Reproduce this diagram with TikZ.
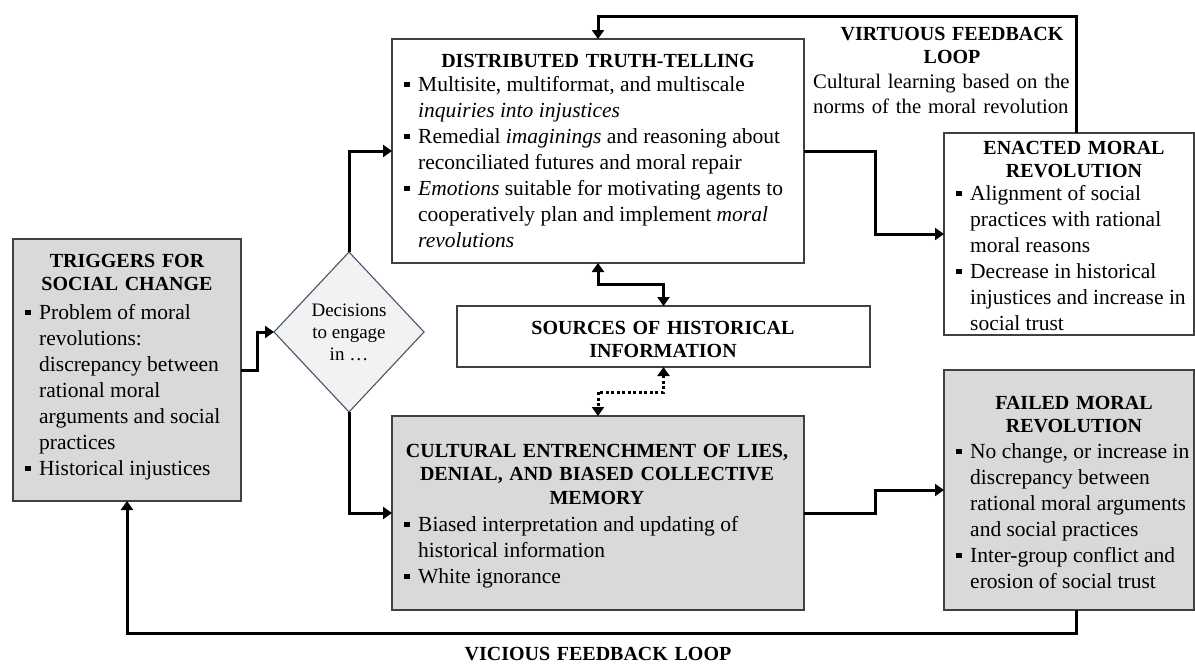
\documentclass[tikz,border=0pt]{standalone}
\usepackage{fontspec}
\setmainfont{Liberation Serif}
\usetikzlibrary{arrows.meta,shapes.geometric,calc}
\definecolor{boxgray}{HTML}{D9D9D9}
\definecolor{dfill}{HTML}{F2F2F2}
\definecolor{dline}{HTML}{44546A}
\definecolor{bline}{HTML}{404040}
\newcommand\bodyfont{\fontsize{21.5}{26}\selectfont}
\newcommand\titlefont{\fontsize{20}{23.5}\selectfont\bfseries}
\newcommand\bl{\makebox[14pt][l]{\rule[4pt]{5.5pt}{5.5pt}}}
\begin{document}
\begin{tikzpicture}[x=1pt,y=-1pt,
  box/.style={draw=bline,line width=1.4pt,anchor=north west,inner sep=0pt,outer sep=0pt},
  graybox/.style={box,fill=boxgray},
  whitebox/.style={box,fill=white},
  ttl/.style={anchor=base,text width=#1,align=center,font=\titlefont,inner sep=0pt},
  body/.style={anchor=base west,font=\bodyfont,inner sep=0pt},
  conn/.style={line width=3pt,-{Triangle[length=9pt,width=12pt]}},
  conn2/.style={line width=3pt,{Triangle[length=9pt,width=12pt]}-{Triangle[length=9pt,width=12pt]}},
  dotconn/.style={line width=3pt,dash pattern=on 3pt off 2.5pt,{Triangle[length=9pt,width=12pt]}-{Triangle[length=9pt,width=12pt]}},
  decision/.style={diamond,draw=dline,fill=dfill,line width=1.1pt,inner sep=0pt,outer sep=0pt,minimum width=150pt,minimum height=160pt,align=center,font=\fontsize{19}{22}\selectfont}
]
\useasboundingbox (0,0) rectangle (1195,664);
\fill[white] (0,0) rectangle (1195,664);

% boxes
\node[graybox,minimum width=228pt,minimum height=262pt] (trig) at (13,239) {};
\node[whitebox,minimum width=412pt,minimum height=224pt] (dtt) at (392,39) {};
\node[whitebox,minimum width=250pt,minimum height=202pt] (ena) at (944,133) {};
\node[whitebox,minimum width=413pt,minimum height=61pt] (src) at (457,306) {};
\node[graybox,minimum width=412pt,minimum height=194pt] (cult) at (392,416) {};
\node[graybox,minimum width=250pt,minimum height=240pt] (fail) at (944,370) {};
\node[decision] (dec) at (349,332) {Decisions\\to engage\\in …};

\coordinate (vt) at (1076,16);
\coordinate (vb) at (1076,633);

% connectors
\draw[conn] (trig.east) -- ++(16,0) |- (dec.west);
\draw[conn] (dec.north) |- (dtt.west);
\draw[conn] (dec.south) |- (cult.west);
\draw[conn] (dtt.east) -- ++(71,0) |- (ena.west);
\draw[conn] (cult.east) -- ++(71,0) |- (fail.west);
\draw[conn] (ena.north -| vt) -- (vt) -| (dtt.north);
\draw[conn] (fail.south -| vb) -- (vb) -| (trig.south);
\draw[conn2] (dtt.south) -- ++(0,21) -| (src.north);
\draw[dotconn] (src.south) -- ++(0,25) -| (cult.north);

% texts
\node[ttl=220pt] (trigT) at (127,267) {TRIGGERS FOR\\SOCIAL CHANGE};
\node[body] (trigB) at (25,319) {\begin{tabular}[t]{@{}l@{}l@{}}\bl&Problem of moral\\&revolutions:\\&discrepancy between\\&rational moral\\&arguments and social\\&practices\\\bl&Historical injustices\end{tabular}};

\node[ttl=400pt] (dttT) at (598,67) {DISTRIBUTED TRUTH-TELLING};
\node[body] (dttB) at (404,91) {\begin{tabular}[t]{@{}l@{}l@{}}\bl&Multisite, multiformat, and multiscale\\&\textit{inquiries into injustices}\\\bl&Remedial \textit{imaginings} and reasoning about\\&reconciliated futures and moral repair\\\bl&\textit{Emotions} suitable for motivating agents to\\&cooperatively plan and implement \textit{moral}\\&\textit{revolutions}\end{tabular}};

\node[ttl=260pt] (virT) at (952,40) {VIRTUOUS FEEDBACK\\LOOP};
\node[anchor=base west,text width=270pt,align=left,inner sep=0pt,font=\fontsize{20.7}{25}\selectfont] (virB) at (813,88) {Cultural learning based on the\\norms of the moral revolution};

\node[ttl=240pt] (enaT) at (1074,154) {ENACTED MORAL\\REVOLUTION};
\node[body] (enaB) at (956,200) {\begin{tabular}[t]{@{}l@{}l@{}}\bl&Alignment of social\\&practices with rational\\&moral reasons\\\bl&Decrease in historical\\&injustices and increase in\\&social trust\end{tabular}};

\node[ttl=400pt] (srcT) at (663,334) {SOURCES OF HISTORICAL\\INFORMATION};

\node[ttl=400pt] (cultT) at (597,457) {CULTURAL ENTRENCHMENT OF LIES,\\DENIAL, AND BIASED COLLECTIVE\\MEMORY};
\node[body] (cultB) at (404,531) {\begin{tabular}[t]{@{}l@{}l@{}}\bl&Biased interpretation and updating of\\&historical information\\\bl&White ignorance\end{tabular}};

\node[ttl=240pt] (failT) at (1074,409) {FAILED MORAL\\REVOLUTION};
\node[body] (failB) at (956,458) {\begin{tabular}[t]{@{}l@{}l@{}}\bl&No change, or increase in\\&discrepancy between\\&rational moral arguments\\&and social practices\\\bl&Inter-group conflict and\\&erosion of social trust\end{tabular}};

\node[ttl=400pt] (vicT) at (598,660) {VICIOUS FEEDBACK LOOP};
\end{tikzpicture}
\end{document}
